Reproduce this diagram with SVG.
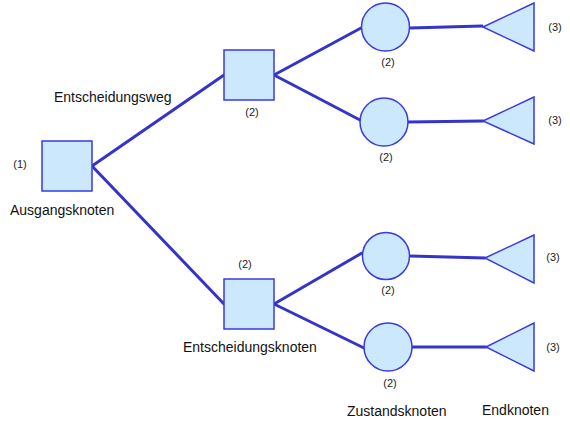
<svg xmlns="http://www.w3.org/2000/svg" width="570" height="421" viewBox="0 0 570 421">
<style>
.n{fill:#cce8fc;stroke:#3a3ae0;stroke-width:1.5}
.c{stroke:#3434c8;stroke-width:3;fill:none;stroke-linecap:round}
.l{font-family:"Liberation Sans",Arial,sans-serif;font-size:14px;fill:#111}
.s{font-family:"Liberation Sans",Arial,sans-serif;font-size:11px;fill:#222;text-anchor:middle}
</style>
<rect width="570" height="421" fill="#fff"/>
<g id="connectors">
<line class="c" x1="92" y1="166" x2="224" y2="75"/>
<line class="c" x1="92" y1="166" x2="224" y2="304"/>
<line class="c" x1="274" y1="75" x2="361" y2="28"/>
<line class="c" x1="274" y1="75" x2="360" y2="120"/>
<line class="c" x1="274" y1="304" x2="362" y2="253"/>
<line class="c" x1="274" y1="304" x2="364" y2="348"/>
<line class="c" x1="410" y1="28" x2="482" y2="26"/>
<line class="c" x1="408" y1="122" x2="483" y2="121"/>
<line class="c" x1="410" y1="256" x2="485" y2="258"/>
<line class="c" x1="412" y1="347" x2="486" y2="347"/>
</g>
<g id="root">
<rect class="n" x="42" y="141" width="50" height="50"/>
<text class="s" x="20" y="168">(1)</text>
<text class="l" x="10" y="215">Ausgangsknoten</text>
</g>
<text id="weg" class="l" x="54" y="102">Entscheidungsweg</text>
<g id="decision1">
<rect class="n" x="224" y="50" width="50" height="50"/>
<text class="s" x="252" y="116">(2)</text>
</g>
<g id="decision2">
<rect class="n" x="224" y="279" width="50" height="50"/>
<text class="s" x="245" y="268">(2)</text>
<text class="l" x="183" y="352">Entscheidungsknoten</text>
</g>
<g id="state1">
<circle class="n" cx="385.5" cy="27" r="24"/>
<text class="s" x="388" y="66">(2)</text>
</g>
<g id="state2">
<circle class="n" cx="384" cy="122" r="24"/>
<text class="s" x="386" y="161">(2)</text>
</g>
<g id="state3">
<circle class="n" cx="386" cy="256" r="23.5"/>
<text class="s" x="388" y="294">(2)</text>
</g>
<g id="state4">
<circle class="n" cx="388" cy="347" r="24"/>
<text class="s" x="390" y="387">(2)</text>
<text class="l" x="347" y="416">Zustandsknoten</text>
</g>
<g id="end1">
<polygon class="n" points="483,27 534,3 534,51"/>
<text class="s" x="555" y="31">(3)</text>
</g>
<g id="end2">
<polygon class="n" points="483,121 534,97 534,144"/>
<text class="s" x="555" y="124">(3)</text>
</g>
<g id="end3">
<polygon class="n" points="485,258 534,235 534,283"/>
<text class="s" x="553" y="261">(3)</text>
</g>
<g id="end4">
<polygon class="n" points="486,347 534,323 534,371"/>
<text class="s" x="553" y="351">(3)</text>
<text class="l" x="482" y="415">Endknoten</text>
</g>
</svg>
